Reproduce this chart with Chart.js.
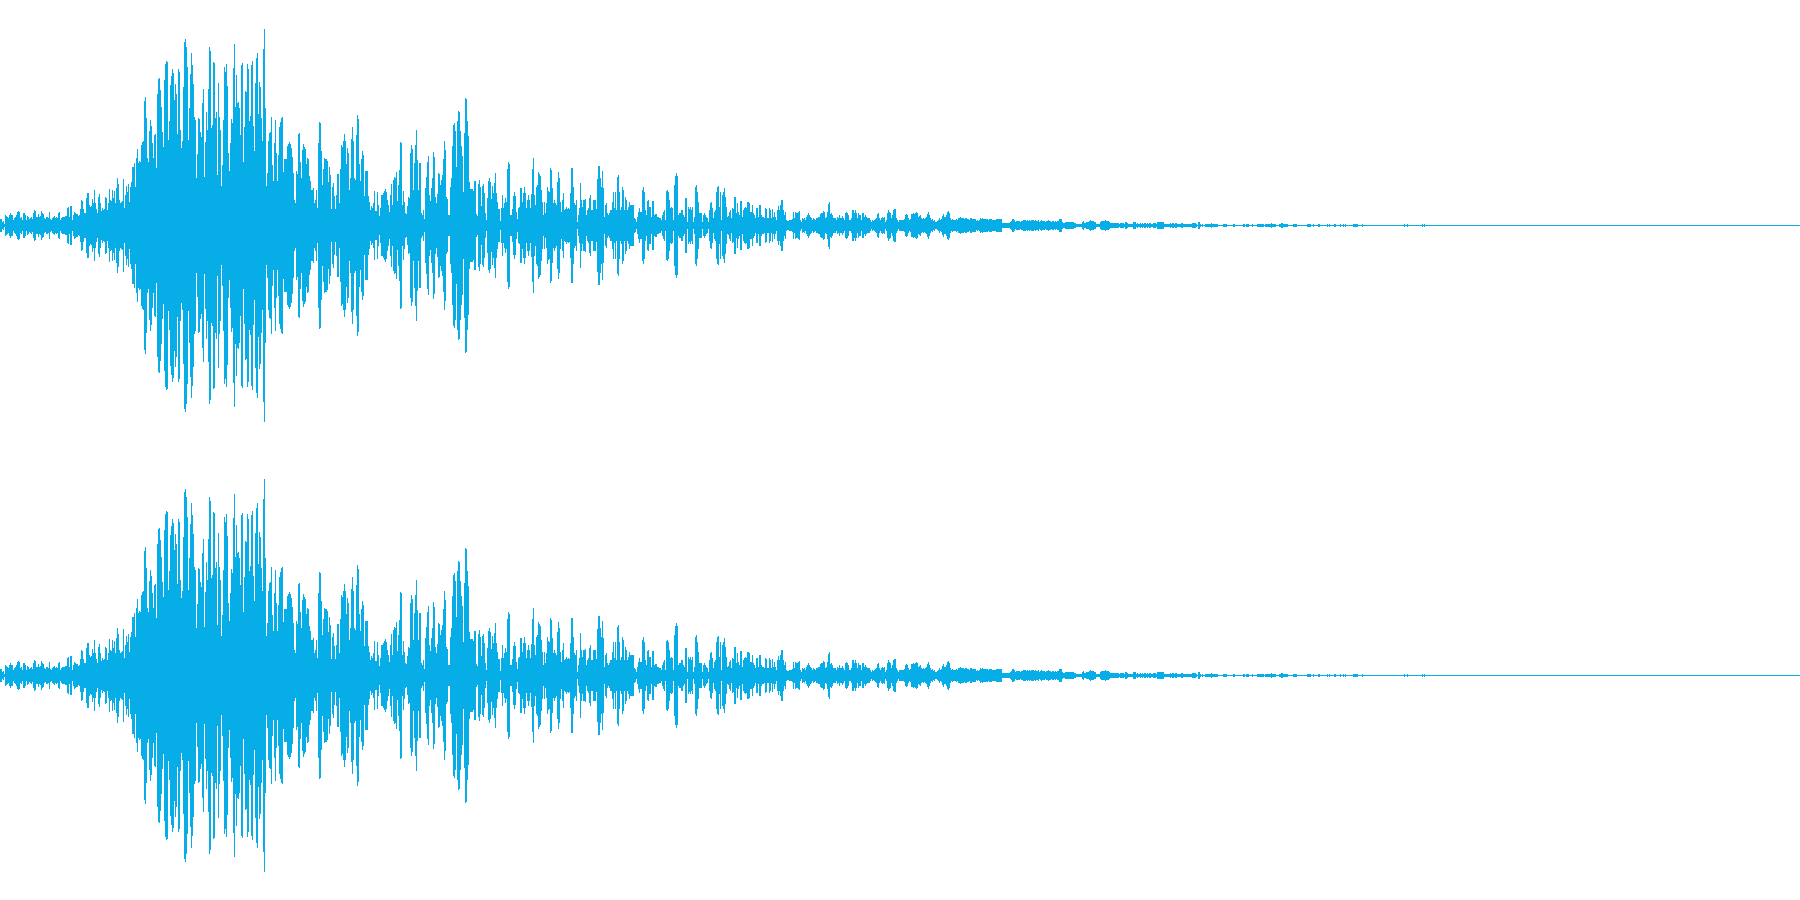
<!DOCTYPE html>
<html>
<head>
<meta charset="utf-8">
<title>Waveform</title>
<style>
html,body{margin:0;padding:0;background:#fff;width:1800px;height:900px;overflow:hidden}
canvas{display:block;position:absolute;left:0}
#left{top:0}
#right{top:450px}
</style>
<script src="https://cdn.jsdelivr.net/npm/chart.js@4/dist/chart.umd.min.js"></script>
</head>
<body>
<canvas id="left" width="1800" height="450"></canvas>
<canvas id="right" width="1800" height="450"></canvas>
<script>
const FRAME_COUNT = 1800;
const AMPLITUDE_LIMIT = 225;
const WAVE_COLOR = '#06ADE6';

const onset = [6,6,3,4,1,10,9,8,7,10,12,10,10,5,7,8,10,13,14,13,7,8,5,12,12,10,5,9,8,6,7,8,6,12,15,14,8,8,11,8,9,14,12,11,7,6,8,8,7,13,6,5,7,8,9,7,8,7,12,13,5,7,8,8,8,9,
9,17,18,8,19,19,5,10,13,12,11,11,9,10,16,25,24,16,12,12,27,32,32,20,18,19,26,22,35,22,16,12,28,31];

const attack = [22,14,17,15,16,28,27,15,22,36,
25,24,35,27,34,22,37,47,41,25,
22,23,24,46,17,30,39,33,41,23,
38,43,58,58,62,38,67,76,62,64,
63,80,83,84,124,128,107,67,63,94,
105,99,82,67,90,91,57,131,146,147,
135,118,93,78,145,161,164,163,85,104,
140,149,156,152,125,141,131,91,156,153,
95,77,84,138,183,186,178,158,85,117,
151,172,160,141,108,105,47,71,107,106,
93,88,122,136,48,83,113,95,136,178,
174,97,100,163,162,107,113,50,142,108,
95,39,60,105,158,153,161,139,72,54,
82,106,102,157,181,118,150,122,123,117,
90,160,162,63,98,134,133,161,156,104,
109,160,164,99,74,142,167,172,111,143,
138,107,84,176,196,117,39,52,84,92,
93,108,60,44,82,105,72,44,70,98,
103,107,108,53,66,66,66,79,81,83,
81,77,68,52,25,22,54,51,91,92];

const body1 = [63,47,75,81,78,76,61,67,66,49,44,35,35,37,22,25,35,17,82,103,102,74,40,56,67,66,66,64,43,58,50,16,38,42,29,16,30,51,51,22,56,80,78,84,91,84,61,77,72,35,47,86,98,84,47,45,90,110,106,61,44,66,74,70,29,54,54,54,
29,23,15,19,17,22,34,14,14,33,20,9,17,30,30,32,34,36,33,25,20,13,30,41,20,45,48,47,53,24,40,55,83,82,20,34,23,12,11,19,28,27,72,80,76,35,62,80,95,65,35,62,62,
12,10,15,6,37,48,63,69,30,24,37,47,73,68,28,22,31,52,51,40,45,50,66,84,75,28,26,10,10];

const body2 = [38,47,79,100,102,94,58,104,114,113,94,79,69,33,92,127,126,104,89,43,36,36,36,34,44,44,11,9,41,45,38,19,39,41,32,12,5,27,44,47];

const decay1 = [43,26,39,32,42,52,32,23,16,16,4,17,30,17,22,27,23,56,63,61,10,10,16,29,33,29,13,6,17,18,37,37,23,32,38,32,17,25,30,25,17,31,56,67,30,20,38,40,53,51,49,35,23,10,23,12,22,38,34,33,57,55,37,22,25,22,20,43,53,47,23,13,25,32,15,16,18,16,17,16,32,57,57,38,22,20,25,3,10,17,42,25,18,25,25,26,10,15,17,27,30,15,15,25,25,25,16,46,59,59,47,38,54,37,8,20,22,12,10,12,15,15,23,33,17,33,15,48,50,33,15,18,38,35,15,28,25,15,18,23,20,20,20,20,7,6,3,8,13,17,13,13,35,38,33,15,10,24,25,18,18,8,24,24,10,11,11,8,8,7,7,5,10,13,15,5,34,35,33,25,17,18,17,5,40,49,52,49,10,12,12,15,15,10,8,27,27,3,18,16,18,15,18,3,8,38,40,33,23,12,12,12,3,10,12,10,8,7,3,15,22,23,17,7,13,15,33,38,39,18,33,5,30,33,37,28,18,8,9,13,15,7,17,16,28,28,12,22,13,10,24,24,8,15,17,18,17,23,23,22,13,13,20,12,10,7,17,17,8,20,20,10,8,8,7,17,16,7,7,17,15,7,16,8,13,8,5,15,19,15];

const decay2 = [20,25,25,15,10,13,5,4,4,5,5,5,6,13,7,13,12,12,13,14,5,3,7,6,7,5,8,10,12,10,8,7,5,7,6,5,7,7,8,8,11,12,12,14,13,7,8,13,21,23,11,12,10,7,7,7,5,8,7,10,7,7,9,7,5,12,13,12,10,5,5,7,15,15,12,15,12,7,12,10,10,5,12,12,8,10,8,7,7,7,5,3,5,4,5,6,7,11,12,7,5,7,8,7,8,3,5,12,15,13,12,7,10,15,16,16,7,5,3,5,5,5,5,5,6,10,11,10,7,5,6,11,11,12,11,12,13,12,8,9,10,7,6,7,6,7,8,11,13,10,7,5,6,4,5,3,3,4,5,7,5,6,9,11,8,8,10,13,14,12,7,5,6,5,5,5,6,5,7,7,8,7,7,7,6,7,7,6,6,5,7,7,6,6,6,6,4,5,4,5,7,6,7,6,6,6,6,6,5,6,6,6,5,5,5,5,6,6,6,6,6,6,2,2,2,2,2,2,2,2,3,4,6,6,5,3,4,4,4,4,3,4,4,5,5,5,4,5,4,5,4,5,5,5,4,5,4,4,5,3,4,5,4,4,4,3,4,4,5,4,4,3,4,4,3,4,3,4,4,6];

const tail = [6,6,3,2,2,3,3,3,3,3,
3,3,3,3,2,2,1,1,1,1,
1,1,3,4,2,2,3,3,3,4,
5,4,4,4,3,3,1,1,1,1,
3,4,4,4,4,5,4,4,4,3,
2,2,2,2,2,2,2,2,2,1,
2,2,2,2,1,3,3,2,1,1,
1,1,1,3,3,3,1,2,1,1,
2,1,2,1,2,2,1,2,1,2,
2,1,1,2,2,2,1,3,3,3,
3,3,3,3,1,1,1,1,1,1,
2,1,2,2,1,2,2,1,1,1,
1,2,2,1,1,1,1,1,1,1,
1,1,2,2,2,2,1,0,3,3,
1,0,1,0,0,1,1,1,1,1,
1,2,1,1,1,1,1,1,0,0,
0,0,0,1,1,1,1,0,0,0,
0,0,0,1,1,0,0,0,0,0,
0,0,0,1,1,0,1,1,1,0,
0,0,1,0,0,0,0,1,1,1,
1,1,1,1,0,1,1,1,1,1,
1,2,1,1,1,1,0,0,0,1,
1,2,2,1,1,1,1,1,0,0,
0,0,0,1,1,1,1,0,0,0,
0,0,0,0,0,0,0,1,1,1,
1,0,0,1,0,0,0,0,1,1,
0,0,0,0,0,0,0,1,0,1,
0,0,0,0,1,1,0,0,0,0,
1,0,0,1,0,1,0,0,0,0,
0,0,0,1,1,1,1,1,0,0,
0,0,1];

const latest = [1,0,0,1,0,0,0,0,0,0,0,0,0,0,0,0,0,0,1,0,1];

const segments = [[0,onset],[100,attack],[300,body1],[450,body2],[490,decay1],[780,decay2],[1060,tail],[1404,latest]];
const frames = Array.from({length:FRAME_COUNT},(_,i)=>i);
const peaks = new Array(FRAME_COUNT).fill(0);
segments.forEach(([start,vals])=>vals.forEach((v,i)=>{peaks[start+i]=v;}));

function drawChannel(id){
  new Chart(document.getElementById(id),{
    type:'bar',
    data:{labels:frames,datasets:[{
      data:peaks.map(v=>v>0?[-(v+1),v]:[0,0]),
      backgroundColor:WAVE_COLOR,
      borderWidth:0,
      inflateAmount:0,
      barPercentage:1,
      categoryPercentage:1
    }]},
    options:{
      responsive:false,
      animation:false,
      events:[],
      layout:{padding:0},
      plugins:{legend:{display:false},tooltip:{enabled:false},title:{display:false}},
      scales:{
        x:{display:false},
        y:{
          min:-AMPLITUDE_LIMIT,max:AMPLITUDE_LIMIT,
          afterBuildTicks:s=>{s.ticks=[{value:0}];},
          border:{display:false},
          ticks:{display:false},
          grid:{color:WAVE_COLOR,lineWidth:1,drawTicks:false}
        }
      }
    }
  });
}
drawChannel('left');
drawChannel('right');
</script>
</body>
</html>
